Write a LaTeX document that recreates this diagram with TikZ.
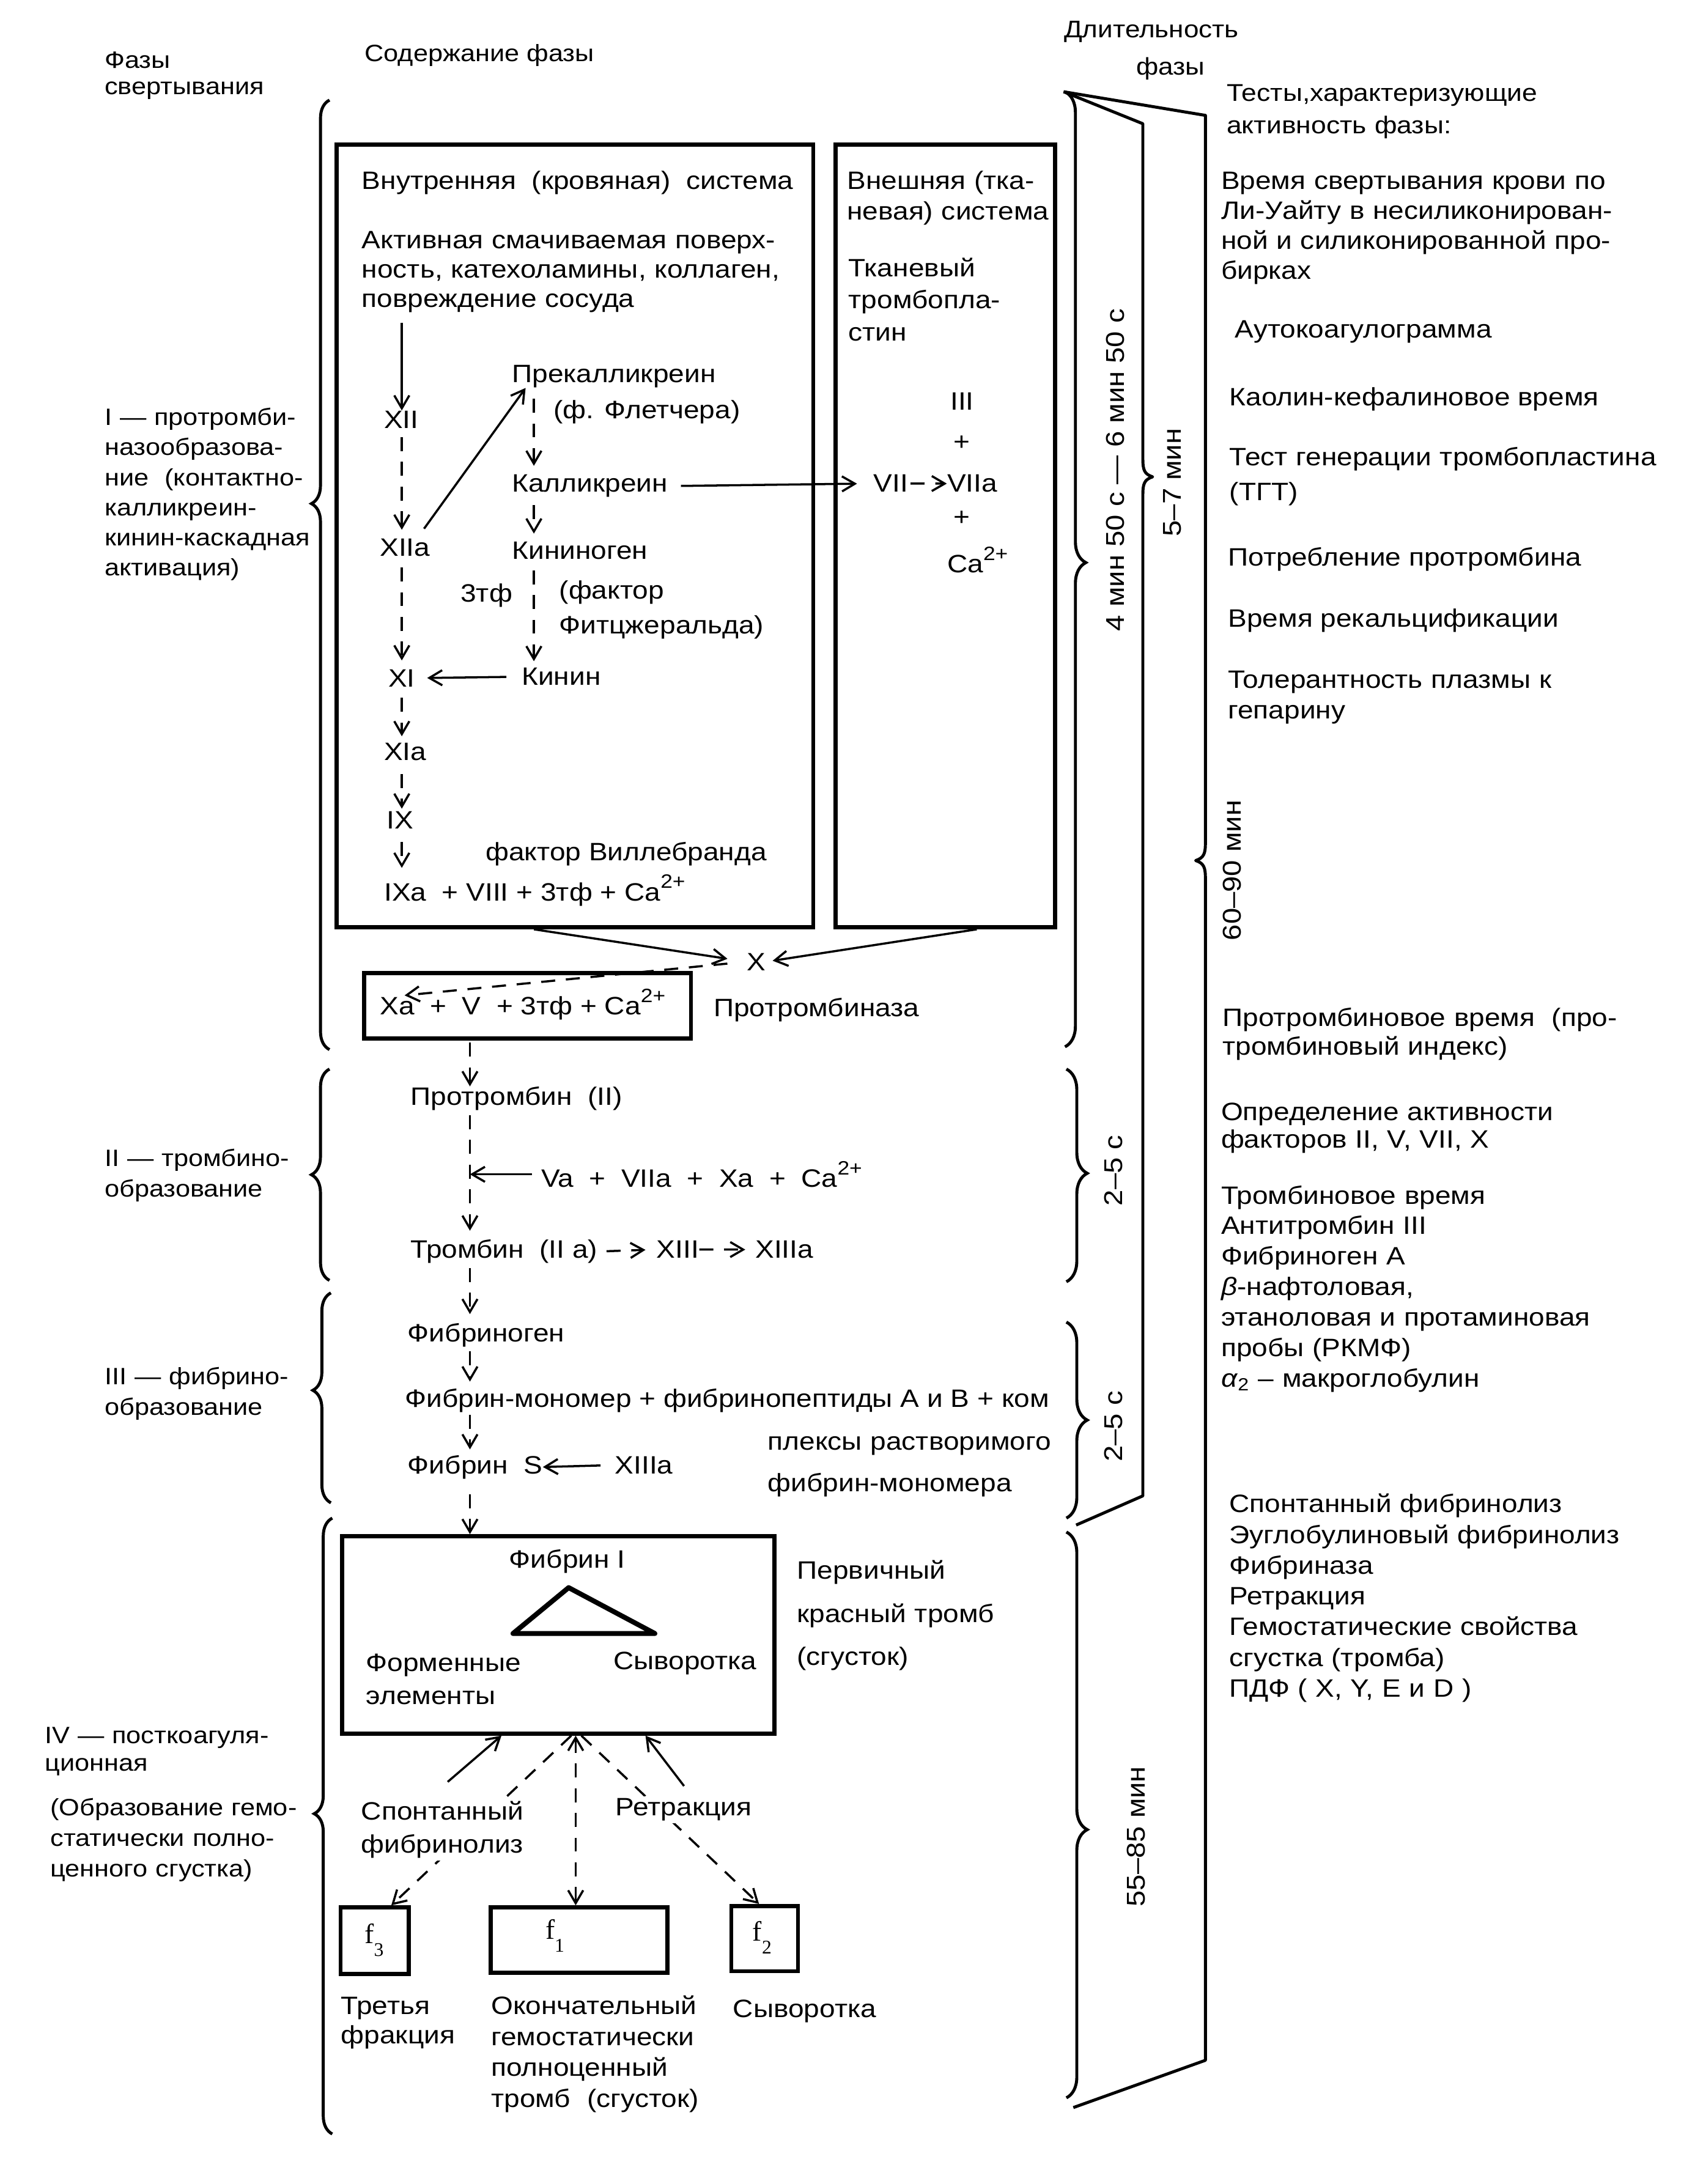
\documentclass[tikz,border=0pt]{standalone}
\usepackage{fontspec}
\setmainfont{Liberation Sans}[FakeStretch=1.12]
\newfontfamily\serf{Liberation Serif}
\usetikzlibrary{arrows.meta,decorations.pathreplacing,fit,calc}
\newcommand\spp[1]{\raisebox{0.5em}{\fontsize{9}{9}\selectfont #1}}
\begin{document}
\begin{tikzpicture}[x=0.02274cm,y=-0.02274cm,
  font=\fontsize{11.7}{14}\selectfont,
  T/.style={anchor=base west,inner sep=0pt,align=left,text width=9cm},
  L/.style={anchor=base west,inner sep=0pt},
  bx/.style={draw,line width=1.9pt,inner sep=0pt},
  arr/.style={line width=1pt,-{Straight Barb[length=6pt,width=7pt]}},
  darr/.style={arr,dash pattern=on 6.5pt off 5pt},
  lbr/.style={decorate,line width=1.4pt,decoration={brace,amplitude=8.4pt,aspect=#1}},
  rbr/.style={decorate,line width=1.4pt,decoration={brace,amplitude=9.7pt,aspect=#1}},
  rot/.style={rotate=90,inner sep=0pt,font=\fontsize{12}{14}\selectfont},
  ff/.style={anchor=base west,inner sep=0pt,font=\serf\fontsize{13}{14}\selectfont},
]
\path[use as bounding box,fill=white] (0,0) rectangle (1211,1571);

% ---------- headers ----------
\node[T,font=\fontsize{11}{12.3}\selectfont] (hfz) at (75,49) {Фазы\\свертывания};
\node[L,font=\fontsize{11}{14}\selectfont] (hsod) at (262,44) {Содержание фазы};
\node[L,font=\fontsize{11.2}{14}\selectfont] (hdl1) at (765,27) {Длительность};
\node[L,font=\fontsize{11.2}{14}\selectfont] (hdl2) at (817,54) {фазы};
\node[T,font=\fontsize{11.3}{14.9}\selectfont] (htest) at (882,73) {Тесты,характеризующие\\активность фазы:};

% ---------- left phase labels ----------
\node[T,font=\fontsize{11}{14}\selectfont] (ph1) at (75,306) {I — протромби-\\назообразова-\\ние\ \ (контактно-\\калликреин-\\кинин-каскадная\\активация)};
\node[T,font=\fontsize{11}{14.2}\selectfont] (ph2) at (75,839) {II — тромбино-\\образование};
\node[T,font=\fontsize{11}{14.2}\selectfont] (ph3) at (75,996) {III — фибрино-\\образование};
\node[T,font=\fontsize{11}{12.9}\selectfont] (ph4a) at (32,1254) {IV — посткоагуля-\\ционная};
\node[T,font=\fontsize{11}{14.2}\selectfont] (ph4b) at (36,1306) {(Образование гемо-\\статически полно-\\ценного сгустка)};

% ---------- left braces ----------
\draw[lbr=0.575] (237,755) -- (237,72);
\draw[lbr=0.5] (237,921) -- (237,769);
\draw[lbr=0.536] (238,1081) -- (238,930);
\draw[lbr=0.52] (239,1535) -- (239,1092);

% ---------- boxes of phase I ----------
\node[bx,fit={(242,104)(585,667)}] (intbox) {};
\node[bx,fit={(601,104)(759,667)}] (extbox) {};

\node[L] (intt) at (260,136) {Внутренняя\ \ (кровяная)\ \ система};
\node[T,font=\fontsize{11.7}{13.6}\selectfont] (akt) at (260,179) {Активная смачиваемая поверх-\\ность, катехоламины, коллаген,\\повреждение сосуда};
\node[T,font=\fontsize{11.7}{14.2}\selectfont] (extt) at (609,136) {Внешняя (тка-\\невая) система};
\node[T,font=\fontsize{11.7}{14.9}\selectfont] (tkan) at (610,199) {Тканевый\\тромбопла-\\стин};

\coordinate (sp) at (289,0);
\coordinate (kp) at (384,0);
\coordinate (pt) at (338,0);

\node[L] (XII) at (276,308) {XII};
\node[L] (XIIa) at (273,400) {XIIa};
\node[L] (prek) at (368,275) {Прекалликреин};
\node[L] (flet) at (398,301) {(ф. Флетчера)};
\node[L] (kall) at (368,354) {Калликреин};
\node[L] (VII) at (628,354) {VII};
\node[L] (VIIa) at (681,354) {VIIa};
\node[anchor=base,inner sep=0pt] (III) at (692,295) {III};
\node[anchor=base,inner sep=0pt] (pl1) at (692,324) {+};
\node[anchor=base,inner sep=0pt] (pl2) at (692,378) {+};
\node[L] (ca1) at (681,412) {Ca\spp{2+}};
\node[L] (kinog) at (368,402) {Кининоген};
\node[L] (tf1) at (331,433) {3тф};
\node[T,font=\fontsize{11.7}{16.1}\selectfont] (fitz) at (402,431) {(фактор\\Фитцжеральда)};
\node[L] (kinin) at (375,493) {Кинин};
\node[L] (XI) at (279,494) {XI};
\node[L] (XIa) at (276,547) {XIa};
\node[L] (IX) at (278,596) {IX};
\node[L] (vill) at (349,619) {фактор Виллебранда};
\node[L] (IXa) at (276,648) {IXa\ \ + VIII + 3тф + Ca\spp{2+}};

\draw[arr,shorten <=4.5pt] (akt.south -| sp) -- (XII.north -| sp);
\draw[darr,shorten <=4pt,shorten >=4pt] (XII.south -| sp) -- (XIIa.north -| sp);
\draw[arr] ([xshift=-3pt,yshift=4.5pt]XIIa.north east) -- ([xshift=6.5pt]prek.south west);
\draw[darr,shorten <=5pt,shorten >=4pt] (prek.south -| kp) -- (kall.north -| kp);
\draw[arr,shorten <=6pt,shorten >=7.5pt] (kall.east) -- (VII.west);
\draw[darr,shorten <=1pt] (VII.east) -- (VIIa.west);
\draw[darr,shorten <=3.5pt,shorten >=3.5pt] (kall.south -| kp) -- (kinog.north -| kp);
\draw[darr,shorten <=5pt,shorten >=3pt] (kinog.south -| kp) -- (kinin.north -| kp);
\draw[darr,shorten <=5pt,shorten >=4pt] (XIIa.south -| sp) -- (XI.north -| sp);
\draw[arr,shorten <=7pt,shorten >=5.5pt] (kinin.west) -- (XI.east);
\draw[darr,shorten <=5pt,shorten >=3pt] (XI.south -| sp) -- (XIa.north -| sp);
\draw[darr,shorten <=6pt,shorten >=1pt] (XIa.south -| sp) -- (IX.north -| sp);
\draw[darr,shorten <=6pt,shorten >=3pt] (IX.south -| sp) -- (IXa.north -| sp);

% ---------- factor X and prothrombinase ----------
\node[L] (X) at (537,698) {X};
\node[bx,fit={(262,700)(497,747)}] (xabox) {};
\node[L] (xat) at (273,730) {Xa\ \ +\ \ V\ \ + 3тф + Ca\spp{2+}};
\node[L] (ptz) at (513,731) {Протромбиназа};
\coordinate (xatip) at (291,716);

\draw[arr,shorten >=9pt] ($(intbox.south west)!0.415!(intbox.south east)$) -- (X.west);
\draw[arr,shorten >=3pt] ($(extbox.south west)!0.64!(extbox.south east)$) -- (X.east);
\draw[darr,shorten <=9pt] (X.west) -- (xatip);

% ---------- phase II ----------
\node[L] (prot) at (295,795) {Протромбин\ \ (II)};
\node[L] (va) at (389,854) {Va\ \ +\ \ VIIa\ \ +\ \ Xa\ \ +\ \ Ca\spp{2+}};
\node[L] (tromb) at (295,905) {Тромбин\ \ (II a)};
\node[L] (XIII) at (472,905) {XIII};
\node[L] (XIIIa) at (543,905) {XIIIa};

\draw[darr,shorten <=1pt] (xabox.south -| pt) -- (prot.north -| pt);
\draw[darr,shorten <=2pt,shorten >=4pt] (prot.south -| pt) -- (tromb.north -| pt);
\draw[arr,shorten <=4pt] (va.west) -- (va.west -| pt);
\draw[darr,shorten <=4pt,shorten >=5pt] (tromb.east) -- (XIII.west);
\draw[darr,shorten <=0pt,shorten >=4.5pt] (XIII.east) -- (XIIIa.west);

% ---------- phase III ----------
\node[L] (fgen) at (293,965) {Фибриноген};
\node[L] (fmon) at (291,1012) {Фибрин-мономер + фибринопептиды А и В + ком};
\node[T,font=\fontsize{11.7}{19.4}\selectfont] (plex) at (552,1043) {плексы растворимого\\фибрин-мономера};
\node[L] (fs) at (293,1060) {Фибрин\ \ S};
\node[L] (XIIIb) at (442,1060) {XIIIa};

\draw[darr,shorten <=2pt,shorten >=4pt] (tromb.south -| pt) -- (fgen.north -| pt);
\draw[darr,shorten <=2pt,shorten >=3pt] (fgen.south -| pt) -- (fmon.north -| pt);
\draw[darr,shorten <=1pt,shorten >=2.5pt] (fmon.south -| pt) -- (fs.north -| pt);
\draw[arr,shorten <=6.5pt] (XIIIb.west) -- (fs.east);

% ---------- phase IV ----------
\node[bx,fit={(246,1105)(557,1247)}] (bbox) {};
\node[L] (fib1) at (366,1128) {Фибрин I};
\draw[line width=2.3pt,line join=round] (409,1142) -- (369,1175) -- (471,1175) -- cycle;
\node[T,font=\fontsize{11.7}{15.5}\selectfont] (form) at (263,1202) {Форменные\\элементы};
\node[L] (syv1) at (441,1201) {Сыворотка};
\node[T,font=\fontsize{11.7}{20}\selectfont] (perv) at (573,1136) {Первичный\\красный тромб\\(сгусток)};

\draw[darr,shorten <=7pt] (fs.south -| pt) -- (bbox.north -| pt);

\node[bx,fit={(245,1372)(294,1420)}] (f3) {};
\node[bx,fit={(353,1372)(480,1419)}] (f1) {};
\node[bx,fit={(526,1371)(574,1418)}] (f2) {};
\node[ff] (f3t) at (262,1398) {f\raisebox{-6pt}{\fontsize{9}{9}\selectfont 3}};
\node[ff] (f1t) at (392,1395) {f\raisebox{-6pt}{\fontsize{9}{9}\selectfont 1}};
\node[ff] (f2t) at (541,1396) {f\raisebox{-6pt}{\fontsize{9}{9}\selectfont 2}};

\coordinate (bc) at ($(bbox.south west)!0.54!(bbox.south east)$);
\draw[darr] ($(bbox.south west)!0.53!(bbox.south east)$) -- ($(f3.north west)!0.73!(f3.north east)$);
\draw[darr,{Straight Barb[length=6pt,width=7pt]}-{Straight Barb[length=6pt,width=7pt]}] (bc) -- (bc |- f1.north);
\draw[darr] ($(bbox.south west)!0.553!(bbox.south east)$) -- ($(f2.north west)!0.42!(f2.north east)$);

\node[anchor=base west,inner sep=1pt,fill=white,align=left,text width=2.9cm,font=\fontsize{11.7}{15.5}\selectfont] (spont) at (258,1309) {Спонтанный\\фибринолиз};
\node[anchor=base west,inner sep=1pt,fill=white] (retr) at (441,1306) {Ретракция};

\draw[arr] ($(spont.north west)+(64,-12)$) -- ($(bbox.south west)!0.37!(bbox.south east)$);
\draw[arr] ($(retr.north west)+(51,-7)$) -- ($(bbox.south west)!0.7!(bbox.south east)$);

\node[T,font=\fontsize{11.7}{13.6}\selectfont] (tret) at (245,1449) {Третья\\фракция};
\node[T,font=\fontsize{11.7}{14.4}\selectfont] (okon) at (353,1449) {Окончательный\\гемостатически\\полноценный\\тромб\ \ (сгусток)};
\node[L] (syv2) at (527,1451) {Сыворотка};

% ---------- duration column ----------
\coordinate (apex) at (765,66);
\draw[rbr=0.493] (766,66) -- (766,753);
\draw[rbr=0.49] (767,769) -- (767,922);
\draw[rbr=0.5] (767,951) -- (767,1092);
\draw[rbr=0.526] (767,1102) -- (767,1509);
\draw[line width=1.4pt,line join=round] (apex) -- (822,89) -- (822,330) .. controls (822,338) and (823,341) .. (829,343) .. controls (823,345) and (822,348) .. (822,356) -- (822,1076) -- (774,1097);
\draw[line width=1.4pt,line join=round] (apex) -- (867,83) -- (867,606) .. controls (867,614) and (866,617) .. (860,619) .. controls (866,621) and (867,624) .. (867,632) -- (867,1482) -- (772,1516);

\node[rot] (d1) at (802,338) {4 мин 50 с — 6 мин 50 с};
\node[rot] (d2) at (843,347) {5–7 мин};
\node[rot] (d3) at (886,626) {60–90 мин};
\node[rot] (d4) at (801,842) {2–5 с};
\node[rot] (d5) at (801,1026) {2–5 с};
\node[rot] (d6) at (817,1321) {55–85 мин};

% ---------- tests column ----------
\node[T] (t1) at (878,136) {Время свертывания крови по\\Ли-Уайту в несиликонирован-\\ной и силиконированной про-\\бирках};
\node[L] (t2) at (888,243) {Аутокоагулограмма};
\node[L] (t3) at (884,292) {Каолин-кефалиновое время};
\node[T,font=\fontsize{11.7}{16.1}\selectfont] (t4) at (884,335) {Тест генерации тромбопластина\\(ТГТ)};
\node[L] (t5) at (883,407) {Потребление протромбина};
\node[L] (t6) at (883,451) {Время рекальцификации};
\node[T,font=\fontsize{11.7}{14.2}\selectfont] (t7) at (883,495) {Толерантность плазмы к\\гепарину};
\node[T,font=\fontsize{11.7}{13.6}\selectfont] (t8) at (879,738) {Протромбиновое время\ \ (про-\\тромбиновый индекс)};
\node[T,font=\fontsize{11.7}{12.9}\selectfont] (t9) at (878,806) {Определение активности\\факторов II, V, VII, X};
\node[T,font=\fontsize{11.7}{14.2}\selectfont] (t10) at (878,866) {Тромбиновое время\\Антитромбин III\\Фибриноген А\\\textit{β}-нафтоловая,\\этаноловая и протаминовая\\пробы (РКМФ)\\\textit{α}\textsubscript{2} – макроглобулин};
\node[T,font=\fontsize{11.7}{14.3}\selectfont] (t11) at (884,1088) {Спонтанный фибринолиз\\Эуглобулиновый фибринолиз\\Фибриназа\\Ретракция\\Гемостатические свойства\\сгустка (тромба)\\ПДФ ( X, Y, E и D )};
\end{tikzpicture}
\end{document}
